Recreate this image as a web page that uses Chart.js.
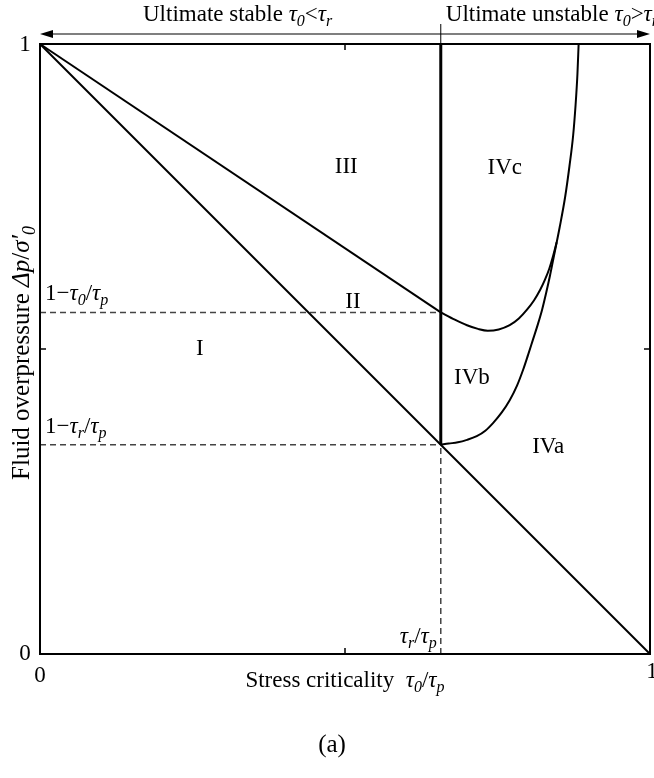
<!DOCTYPE html>
<html>
<head>
<meta charset="utf-8">
<script src="https://cdn.jsdelivr.net/npm/chart.js@4.4.0/dist/chart.umd.min.js"></script>
<style>
  body { margin: 0; background: #fff; }
  #chart { display: block; }
</style>
</head>
<body>
<canvas id="chart" width="654" height="778"></canvas>
<script>
// critical ratio tau_r / tau_p
let tauR = 0.657;

// straight boundaries
let diagX = [0, 1];
let diagY = [1, 0];
let stableX = [0, tauR];
let stableY = [1, 0.56];
let wallX = [tauR, tauR];
let wallY = [0.343, 1];

// dashed guides
let guideHiX = [0, tauR];
let guideHiY = [0.56, 0.56];
let guideLoX = [0, tauR];
let guideLoY = [0.343, 0.343];
let guideVX = [tauR, tauR];
let guideVY = [0, 0.343];

// upper curve (IVb / IVc boundary), joins the outer curve
let upperX = [0.657, 0.680, 0.700, 0.718, 0.734, 0.752, 0.770, 0.785, 0.798, 0.810, 0.820, 0.828, 0.835, 0.841, 0.847];
let upperY = [0.560, 0.548, 0.539, 0.533, 0.530, 0.532, 0.539, 0.550, 0.564, 0.580, 0.597, 0.614, 0.632, 0.652, 0.675];

// outer curve (IVa / IVb, then IVc boundary up to the top)
let lowerX = [0.657, 0.670, 0.685, 0.700, 0.716, 0.730, 0.743, 0.757, 0.770, 0.782, 0.792, 0.800, 0.808, 0.816, 0.823, 0.830, 0.836, 0.842, 0.852, 0.861, 0.868, 0.874, 0.878, 0.881, 0.883];
let lowerY = [0.343, 0.345, 0.347, 0.351, 0.357, 0.366, 0.379, 0.396, 0.416, 0.440, 0.466, 0.490, 0.515, 0.540, 0.564, 0.593, 0.620, 0.650, 0.700, 0.750, 0.800, 0.850, 0.900, 0.950, 1.0];

// region labels
let regionNames = ["I", "II", "III", "IVa", "IVb", "IVc"];
let regionX = [0.262, 0.513, 0.502, 0.833, 0.708, 0.762];
let regionY = [0.50, 0.577, 0.798, 0.339, 0.452, 0.797];

function pts(xs, ys) {
  return xs.map((x, i) => ({ x: x, y: ys[i] }));
}

function solid(xs, ys, w, smooth) {
  let ds = {
    data: pts(xs, ys), showLine: true, pointRadius: 0,
    borderColor: "#000", borderWidth: w, clip: 4
  };
  if (smooth) ds.cubicInterpolationMode = "monotone";
  return ds;
}

function dashed(xs, ys) {
  return {
    data: pts(xs, ys), showLine: true, pointRadius: 0,
    borderColor: "#444", borderWidth: 1.5, borderDash: [6, 4], clip: 4
  };
}

const FONT = '"Liberation Serif", "DejaVu Serif", serif';
const FS = 23;

function setFont(ctx, style, size) {
  if (style == "n") ctx.font = size + "px " + FONT;
  else if (style == "i") ctx.font = "italic " + size + "px " + FONT;
  else ctx.font = "italic " + Math.round(size * 0.7) + "px " + FONT;
}

// draws text runs: n = normal, i = italic, s = italic subscript
function drawRich(ctx, runs, x, y, size, align) {
  let w = 0;
  for (let r of runs) {
    setFont(ctx, r[1], size);
    w += ctx.measureText(r[0]).width;
  }
  let cx = align == "center" ? x - w / 2 : align == "right" ? x - w : x;
  ctx.textAlign = "left";
  ctx.textBaseline = "alphabetic";
  for (let r of runs) {
    setFont(ctx, r[1], size);
    let dy = r[1] == "s" ? size * 0.22 : 0;
    ctx.fillText(r[0], cx, y + dy);
    cx += ctx.measureText(r[0]).width;
  }
}

const overlay = {
  id: "overlay",
  afterDatasetsDraw(chart) {
    const ctx = chart.ctx;
    const a = chart.chartArea;
    const xs = chart.scales.x;
    const ys = chart.scales.y;
    ctx.save();
    ctx.fillStyle = "#000";
    ctx.strokeStyle = "#000";

    // frame
    ctx.lineWidth = 2;
    ctx.strokeRect(a.left, a.top, a.right - a.left, a.bottom - a.top);

    // inward ticks at 0.5
    ctx.lineWidth = 1.5;
    let mx = xs.getPixelForValue(0.5);
    let my = ys.getPixelForValue(0.5);
    ctx.beginPath();
    ctx.moveTo(mx, a.top); ctx.lineTo(mx, a.top + 6);
    ctx.moveTo(mx, a.bottom); ctx.lineTo(mx, a.bottom - 6);
    ctx.moveTo(a.left, my); ctx.lineTo(a.left + 6, my);
    ctx.moveTo(a.right, my); ctx.lineTo(a.right - 6, my);
    ctx.stroke();

    // double arrow on top
    let ay = a.top - 10;
    ctx.lineWidth = 1.2;
    ctx.beginPath();
    ctx.moveTo(a.left + 8, ay); ctx.lineTo(a.right - 8, ay);
    ctx.stroke();
    ctx.beginPath();
    ctx.moveTo(a.left, ay); ctx.lineTo(a.left + 13, ay - 4); ctx.lineTo(a.left + 13, ay + 4);
    ctx.closePath(); ctx.fill();
    ctx.beginPath();
    ctx.moveTo(a.right, ay); ctx.lineTo(a.right - 13, ay - 4); ctx.lineTo(a.right - 13, ay + 4);
    ctx.closePath(); ctx.fill();

    // thin divider above plot
    let rx = xs.getPixelForValue(tauR);
    ctx.lineWidth = 1;
    ctx.beginPath();
    ctx.moveTo(rx, 24); ctx.lineTo(rx, a.top);
    ctx.stroke();

    // top labels
    drawRich(ctx, [["Ultimate stable ", "n"], ["τ", "i"], ["0", "s"], ["<", "n"], ["τ", "i"], ["r", "s"]], 143, 21, FS, "left");
    drawRich(ctx, [["Ultimate unstable ", "n"], ["τ", "i"], ["0", "s"], [">", "n"], ["τ", "i"], ["r", "s"]], rx + 5, 21, FS, "left");

    // axis end labels
    ctx.font = FS + "px " + FONT;
    ctx.textAlign = "center";
    ctx.textBaseline = "middle";
    ctx.fillText("1", 25, ys.getPixelForValue(1) + 1);
    ctx.fillText("0", 25, ys.getPixelForValue(0));
    ctx.fillText("0", xs.getPixelForValue(0), a.bottom + 22);
    ctx.fillText("1", xs.getPixelForValue(1) + 2, a.bottom + 18);

    // guide labels
    drawRich(ctx, [["1−", "n"], ["τ", "i"], ["0", "s"], ["/", "n"], ["τ", "i"], ["p", "s"]], a.left + 5, ys.getPixelForValue(0.56) - 12, FS, "left");
    drawRich(ctx, [["1−", "n"], ["τ", "i"], ["r", "s"], ["/", "n"], ["τ", "i"], ["p", "s"]], a.left + 5, ys.getPixelForValue(0.343) - 12, FS, "left");
    drawRich(ctx, [["τ", "i"], ["r", "s"], ["/", "n"], ["τ", "i"], ["p", "s"]], rx - 4, a.bottom - 11, FS, "right");

    // region labels
    ctx.font = FS + "px " + FONT;
    ctx.textAlign = "center";
    ctx.textBaseline = "middle";
    regionNames.forEach((n, i) => {
      ctx.fillText(n, xs.getPixelForValue(regionX[i]), ys.getPixelForValue(regionY[i]));
    });

    // axis titles
    drawRich(ctx, [["Stress criticality  ", "n"], ["τ", "i"], ["0", "s"], ["/", "n"], ["τ", "i"], ["p", "s"]], (a.left + a.right) / 2, a.bottom + 33, FS, "center");
    ctx.save();
    ctx.translate(29, (a.top + a.bottom) / 2 + 4);
    ctx.rotate(-Math.PI / 2);
    drawRich(ctx, [["Fluid overpressure ", "n"], ["Δp", "i"], ["/", "n"], ["σ′", "i"], ["0", "s"]], 0, 0, 25, "center");
    ctx.restore();

    // panel caption
    ctx.font = "25px " + FONT;
    ctx.textAlign = "center";
    ctx.textBaseline = "alphabetic";
    ctx.fillText("(a)", 332, 752);

    ctx.restore();
  }
};

let chart = new Chart(document.getElementById("chart"), {
  type: "scatter",
  data: {
    datasets: [
      solid(diagX, diagY, 2),
      solid(stableX, stableY, 2),
      solid(wallX, wallY, 3),
      solid(upperX, upperY, 2, true),
      solid(lowerX, lowerY, 2, true),
      dashed(guideHiX, guideHiY),
      dashed(guideLoX, guideLoY),
      dashed(guideVX, guideVY)
    ]
  },
  options: {
    responsive: false,
    animation: false,
    layout: { padding: { left: 40, top: 44, right: 4, bottom: 124 } },
    plugins: { legend: { display: false }, tooltip: { enabled: false } },
    scales: {
      x: { type: "linear", min: 0, max: 1, display: false },
      y: { type: "linear", min: 0, max: 1, display: false }
    }
  },
  plugins: [overlay]
});
</script>
</body>
</html>
